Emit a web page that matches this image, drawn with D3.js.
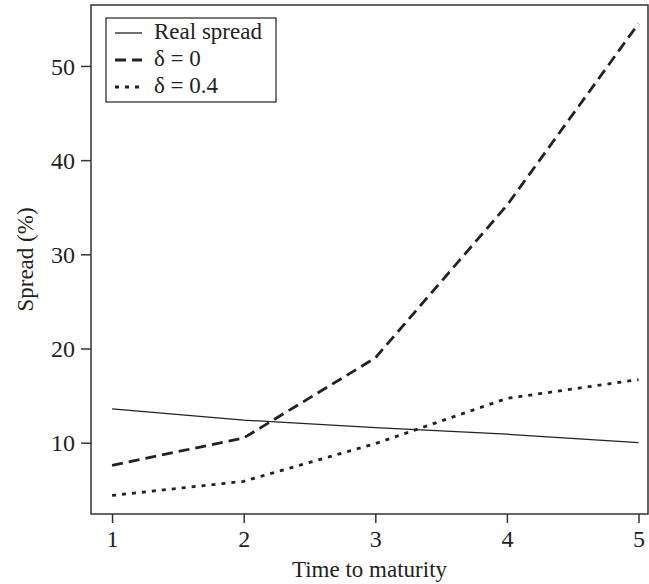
<!DOCTYPE html>
<html><head><meta charset="utf-8">
<script src="https://cdn.jsdelivr.net/npm/d3@7"></script>
<style>body{margin:0;background:#fff}svg{display:block}text{font-family:"Liberation Serif","Times New Roman",serif;fill:#222}</style>
</head><body><svg id="c" width="649" height="584"></svg>
<script>
const maturity = [1, 2, 3, 4, 5];
const realSpread = [13.6, 12.4, 11.6, 10.9, 10.0];
const delta0 = [7.6, 10.5, 19.0, 35.2, 54.5];
const delta04 = [4.4, 5.9, 9.9, 14.7, 16.7];
const xTicks = [1, 2, 3, 4, 5];
const yTicks = [10, 20, 30, 40, 50];
const seriesNames = ["Real spread", "\u03b4 = 0", "\u03b4 = 0.4"];

const L = 91, R = 648, T = 5, B = 514;
const svg = d3.select("#c");
const x = d3.scaleLinear().domain([0.84, 5.072]).range([L, R]);
const y = d3.scaleLinear().domain([2.43, 56.47]).range([B, T]);

const frameColor = "#333";
svg.append("rect").attr("x", L).attr("y", T).attr("width", R - L).attr("height", B - T)
  .attr("fill", "none").attr("stroke", frameColor).attr("stroke-width", 1.5);

const xAxis = svg.append("g").attr("transform", `translate(0,${B})`)
  .call(d3.axisBottom(x).tickValues(xTicks).tickFormat(d3.format("d")).tickSize(9).tickSizeOuter(0));
const yAxis = svg.append("g").attr("transform", `translate(${L},0)`)
  .call(d3.axisLeft(y).tickValues(yTicks).tickFormat(d3.format("d")).tickSize(10).tickSizeOuter(0));
[xAxis, yAxis].forEach(g => {
  g.select(".domain").remove();
  g.selectAll("line").attr("stroke", frameColor).attr("stroke-width", 1.5);
  g.selectAll("text").attr("font-size", 24).attr("font-family", '"Liberation Serif",serif').attr("fill", "#222");
});
xAxis.selectAll("text").attr("dy", null).attr("y", 33);
yAxis.selectAll("text").attr("x", -16).attr("dy", "0.34em");

svg.append("text").attr("x", (L + R) / 2).attr("y", 577).attr("text-anchor", "middle")
  .attr("font-size", 23).text("Time to maturity");
svg.append("text").attr("transform", `translate(33,${(T + B) / 2}) rotate(-90)`)
  .attr("text-anchor", "middle").attr("font-size", 23).text("Spread (%)");

const styles = [
  {w: 1.3, dash: null},
  {w: 2.8, dash: "11,6"},
  {w: 2.8, dash: "4,6"}
];
const data = [realSpread, delta0, delta04];
const line = d3.line().x((d, i) => x(maturity[i])).y(d => y(d));
data.forEach((s, k) => {
  svg.append("path").datum(s).attr("d", line).attr("fill", "none")
    .attr("stroke", "#222").attr("stroke-width", styles[k].w)
    .attr("stroke-dasharray", styles[k].dash);
});

const lg = svg.append("g");
lg.append("rect").attr("x", 106).attr("y", 18).attr("width", 170).attr("height", 84)
  .attr("fill", "#fff").attr("stroke", frameColor).attr("stroke-width", 1.3);
seriesNames.forEach((n, k) => {
  const yy = 33 + k * 27;
  lg.append("line").attr("x1", 115).attr("x2", 142).attr("y1", yy).attr("y2", yy)
    .attr("stroke", "#222").attr("stroke-width", styles[k].w).attr("stroke-dasharray", styles[k].dash);
  lg.append("text").attr("x", 154).attr("y", yy + 6).attr("font-size", 23).text(n);
});
</script></body></html>
